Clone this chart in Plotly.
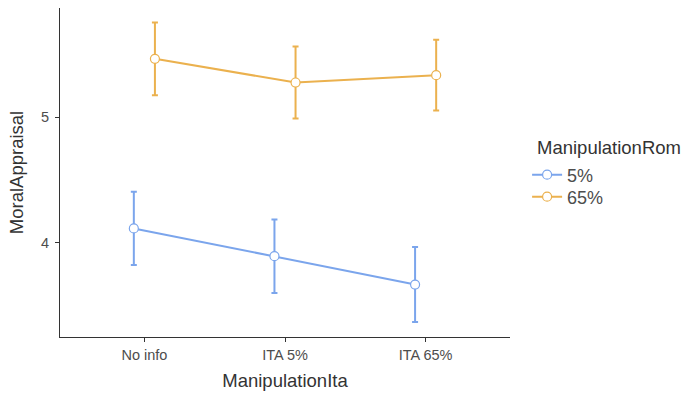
import plotly.graph_objects as go

# Categories on the x axis and the grouping variable
categories = ["No info", "ITA 5%", "ITA 65%"]
groups = ["5%", "65%"]

# Group means and standard errors of MoralAppraisal
means_5 = [4.112, 3.890, 3.664]
err_5 = [0.293, 0.293, 0.300]
means_65 = [5.466, 5.277, 5.336]
err_65 = [0.290, 0.287, 0.283]

colors = {"5%": "#7BA5EC", "65%": "#EBB14E"}
dodge = {"5%": -0.075, "65%": 0.075}
series = {"5%": (means_5, err_5), "65%": (means_65, err_65)}
legend_ids = {"5%": "legend", "65%": "legend2"}

font_family = "Liberation Sans, Arial, sans-serif"

fig = go.Figure()
for g in groups:
    m, e = series[g]
    xs = [i + 1 + dodge[g] for i in range(len(categories))]
    fig.add_trace(go.Scatter(
        x=xs, y=m, name=g, mode="lines+markers", legend=legend_ids[g],
        line=dict(color=colors[g], width=2),
        marker=dict(symbol="circle", size=9, color="white",
                    line=dict(color=colors[g], width=1.2)),
        error_y=dict(type="data", array=e, visible=True,
                     color=colors[g], thickness=2, width=3),
    ))

# Legend title drawn as a separate annotation so it sits flush with the symbols
fig.add_annotation(
    text="ManipulationRom", xref="paper", yref="paper",
    x=(535 - 60) / 450, y=1 - (148 - 8) / 329,
    xanchor="left", yanchor="middle", showarrow=False,
    font=dict(size=18.5, color="#333333"),
)

legend_style = dict(font=dict(size=18, color="#4D4D4D"),
                    bgcolor="rgba(0,0,0,0)",
                    x=1.038, xanchor="left", yanchor="middle", itemwidth=30)

fig.update_layout(
    width=686, height=396,
    margin=dict(l=60, r=176, t=8, b=59),
    paper_bgcolor="white", plot_bgcolor="white",
    font=dict(family=font_family, color="#4D4D4D"),
    showlegend=True,
    legend=dict(y=1 - (175 - 8) / 329, **legend_style),
    legend2=dict(y=1 - (197 - 8) / 329, **legend_style),
    xaxis=dict(
        range=[0.4, 3.6],
        tickmode="array", tickvals=[1, 2, 3], ticktext=categories,
        showgrid=False, zeroline=False,
        showline=True, linecolor="#333333", linewidth=1.2,
        ticks="outside", ticklen=4, tickcolor="#333333", tickwidth=1.2,
        tickfont=dict(size=14.5, color="#4D4D4D"),
        title=dict(text="ManipulationIta", font=dict(size=18.5, color="#333333"), standoff=12),
    ),
    yaxis=dict(
        range=[3.245, 5.872],
        tickmode="array", tickvals=[4, 5], ticktext=["4", "5"],
        showgrid=False, zeroline=False,
        showline=True, linecolor="#333333", linewidth=1.2,
        ticks="outside", ticklen=4, tickcolor="#333333", tickwidth=1.2,
        ticklabelstandoff=3,
        tickfont=dict(size=14.5, color="#4D4D4D"),
        title=dict(text="MoralAppraisal", font=dict(size=18.5, color="#333333"), standoff=12),
    ),
)

fig.write_html("out.html")
